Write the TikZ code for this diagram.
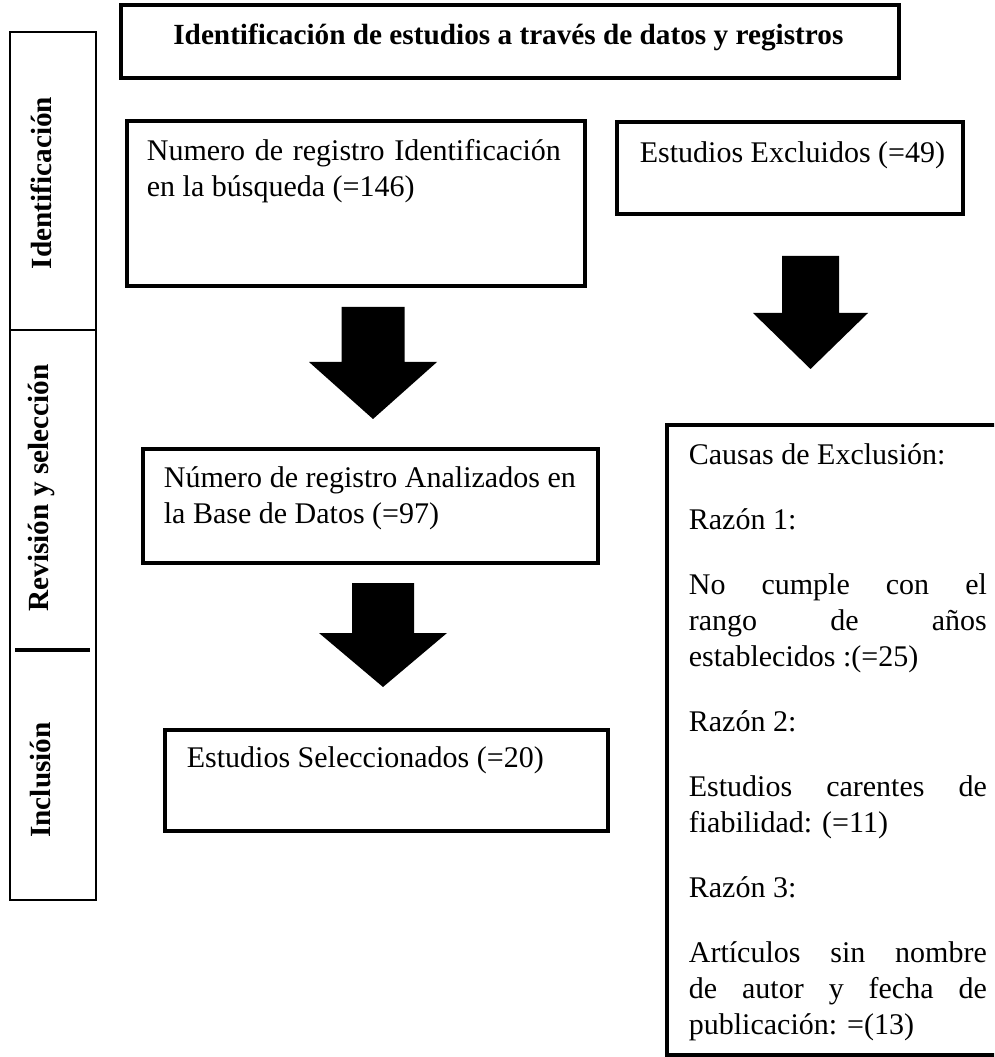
\documentclass[tikz,border=0pt]{standalone}
\usepackage{fontspec}
\setmainfont{Liberation Serif}
\usetikzlibrary{positioning,fit}

\hyphenpenalty=10000
\tolerance=10000
\hbadness=10000

% fat block arrow: centre x, top, neck, tip, half shaft, half head
\newcommand{\blockarrow}[6]{%
  \fill (#1-#5,#2) -- (#1+#5,#2) -- (#1+#5,#3) -- (#1+#6,#3) -- (#1,#4)
    -- (#1-#6,#3) -- (#1-#5,#3) -- cycle;}

\begin{document}
\begin{tikzpicture}[x=0.4pt,y=-0.4pt,
  frame/.style={draw,line width=1.3pt,inner sep=0pt},
  sidebox/.style={draw,line width=0.8pt,inner sep=0pt},
  body/.style={inner sep=0pt,anchor=base west,align=justify,font=\fontsize{12}{14.4}\selectfont},
  sidelabel/.style={rotate=90,inner sep=0pt,font=\fontsize{11.7}{14}\selectfont\bfseries}]

  \clip (0,0) rectangle (994,1057);
  \useasboundingbox (0,0) rectangle (994,1057);

  % frames
  \node[frame,fit={(121,5) (899,78)}] (title) {};
  \node[sidebox,fit={(10,32) (96,900)}] (side) {};
  \node[frame,fit={(127,121) (585,286)}] (b1) {};
  \node[frame,fit={(617,122) (963,214)}] (b2) {};
  \node[frame,fit={(143,449) (598,563)}] (b3) {};
  \node[frame,fit={(165,730) (608,831)}] (b4) {};
  \node[frame,fit={(667,425) (1010,1055)}] (b5) {};

  % sidebar
  \draw[line width=1.1pt] (10,330) -- (96,330);
  \draw[line width=1.6pt] (15,650) -- (90,650);
  \node[sidelabel] (lid) at (41,183) {Identificación};
  \node[sidelabel] (lrev) at (41,488) {Revisión y selección};
  \node[sidelabel] (linc) at (41,780) {Inclusión};

  % texts
  \node[inner sep=0pt,anchor=base,font=\fontsize{11.7}{14}\selectfont\bfseries] (ttitle)
    at ([shift={(389,41)}]title.north west) {Identificación de estudios a través de datos y registros};
  \node[body,text width=165.6pt] (t1) at ([shift={(21,41)}]b1.north west)
    {Numero de registro Identificación\linebreak en la búsqueda (=146)};
  \node[body] (t2) at ([shift={(24,42)}]b2.north west) {Estudios Excluidos (=49)};
  \node[body,text width=164.8pt] (t3) at ([shift={(22,40)}]b3.north west)
    {Número de registro Analizados en\linebreak la Base de Datos (=97)};
  \node[body] (t4) at ([shift={(23,39)}]b4.north west) {Estudios Seleccionados (=20)};
  \node[body,text width=119.2pt] (t5) at ([shift={(23,41)}]b5.north west)
    {\setlength{\parskip}{11.6pt}Causas de Exclusión:\par
     Razón 1:\par
     No cumple con el\linebreak rango de años\linebreak establecidos :(=25)\par
     Razón 2:\par
     Estudios carentes de\linebreak fiabilidad: (=11)\par
     Razón 3:\par
     Artículos sin nombre\linebreak de autor y fecha de\linebreak publicación: =(13)};

  % arrows
  \blockarrow{373}{307}{362}{419}{31.5}{64}
  \blockarrow{383}{583}{633}{687}{31}{64}
  \blockarrow{810.5}{256}{313}{369}{28.5}{57.5}

\end{tikzpicture}
\end{document}
